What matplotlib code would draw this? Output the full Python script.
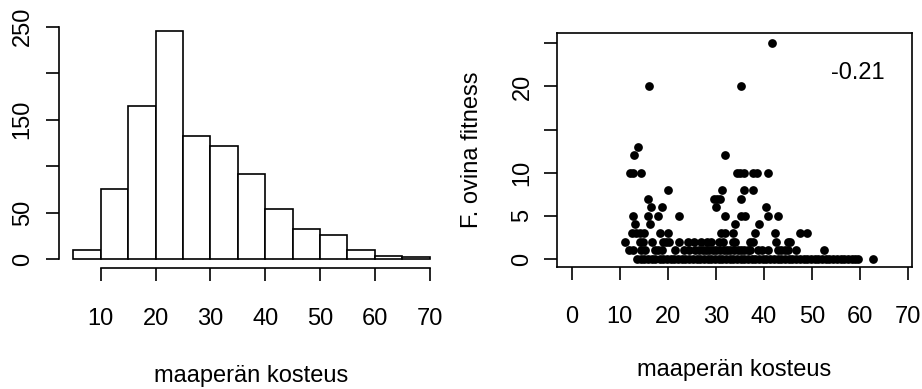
import numpy as np
import matplotlib
matplotlib.use('Agg')
import matplotlib.pyplot as plt

plt.rcParams['font.family'] = ['Liberation Sans', 'DejaVu Sans']
plt.rcParams['font.size'] = 17

# histogram of soil moisture (maaperän kosteus)
bin_edges = [5, 10, 15, 20, 25, 30, 35, 40, 45, 50, 55, 60, 65, 70]
bin_counts = [10, 75, 165, 245, 132, 122, 92, 54, 33, 26, 10, 4, 2]
hist_yticks = [0, 50, 100, 150, 200, 250]
hist_ylabels = ['0', '50', '', '150', '', '250']
hist_xticks = [10, 20, 30, 40, 50, 60, 70]

# F. ovina fitness vs soil moisture, soil values grouped by fitness value
soil_fit0 = [13.6, 14.4, 15.1, 15.9, 16.7, 17.4, 18.3, 19.0, 19.8, 20.6, 21.3, 22.1,
             22.9, 23.6, 24.4, 25.2, 26.0, 26.7, 27.5, 28.3, 29.0, 29.8, 30.6, 31.3,
             32.1, 32.9, 33.6, 34.4, 35.2, 35.9, 36.7, 37.5, 38.2, 39.0, 39.8, 40.5,
             41.3, 42.1, 42.8, 43.6, 44.4, 45.1, 45.9, 46.7, 47.4, 48.2, 49.0, 49.7,
             50.5, 51.3, 52.0, 52.8, 53.6, 54.3, 55.1, 55.9, 56.6, 57.4, 58.2, 58.9,
             59.5, 62.7]
soil_fit1 = [12.0, 12.7, 14.5, 15.2, 17.3, 18.0, 18.7, 21.5, 23.4, 24.3, 25.7, 26.4,
             27.2, 27.9, 28.6, 29.4, 30.1, 30.8, 31.6, 32.3, 33.0, 33.8, 34.5, 35.2,
             35.9, 36.6, 37.1, 38.8, 39.5, 40.8, 42.9, 43.6, 44.4, 45.0, 46.7, 52.5]
soil_fit2 = [11.1, 14.2, 14.9, 16.7, 18.9, 19.6, 20.2, 22.4, 24.1, 25.5, 26.8, 28.1,
             29.0, 30.6, 31.5, 33.5, 34.0, 37.1, 37.8, 42.4, 45.0, 45.4]
soil_fit3 = [12.5, 13.3, 14.2, 15.0, 18.4, 20.0, 31.0, 31.9, 33.5, 38.1, 42.3, 47.5, 49.0]
soil_fit4 = [13.1, 16.2, 34.0, 38.9]
soil_fit5 = [12.8, 15.9, 18.0, 22.3, 31.9, 35.2, 36.0, 40.9, 42.8]
soil_fit6 = [16.4, 18.7, 30.1, 40.5]
soil_fit7 = [15.9, 29.6, 30.3, 30.9, 35.3]
soil_fit8 = [20.0, 31.2, 35.9, 37.8]
soil_fit10 = [12.2, 12.8, 14.5, 34.3, 35.0, 35.8, 37.8, 38.5, 40.9]
soil_fit12 = [13.0, 31.9]
soil_fit13 = [13.7]
soil_fit20 = [16.1, 35.3]
soil_fit25 = [41.6]

soil_groups = [soil_fit0, soil_fit1, soil_fit2, soil_fit3, soil_fit4, soil_fit5, soil_fit6,
               soil_fit7, soil_fit8, soil_fit10, soil_fit12, soil_fit13, soil_fit20, soil_fit25]
fitness_levels = [0, 1, 2, 3, 4, 5, 6, 7, 8, 10, 12, 13, 20, 25]
corr_label = '-0.21'

sc_xticks = [0, 10, 20, 30, 40, 50, 60, 70]
sc_yticks = [0, 5, 10, 15, 20, 25]
sc_ylabels = ['0', '5', '10', '', '20', '']

W, H = 922, 389
fig = plt.figure(figsize=(W / 100, H / 100), dpi=100)

lw = 1.2
tick_len = 9.7

# ---- left: histogram
ax1 = fig.add_axes([59 / W, 1 - 268.4 / H, 385 / W, 246.2 / H])
ax1.bar(bin_edges[:-1], bin_counts, width=np.diff(bin_edges), align='edge',
        facecolor='white', edgecolor='black', linewidth=lw)
ax1.set_xlim(2.4, 72.6)
ax1.set_ylim(-9.8, 254.8)
for s in ['top', 'right']:
    ax1.spines[s].set_visible(False)
ax1.spines['left'].set_bounds(0, 250)
ax1.spines['bottom'].set_bounds(10, 70)
for s in ['left', 'bottom']:
    ax1.spines[s].set_linewidth(lw)
ax1.set_xticks(hist_xticks)
ax1.set_yticks(hist_yticks)
ax1.set_yticklabels(hist_ylabels, rotation=90, va='center')
ax1.tick_params(axis='x', length=tick_len, width=lw, pad=18.5)
ax1.tick_params(axis='y', length=tick_len, width=lw, pad=8.5)
fig.text(251.5 / W, 1 - 382 / H, 'maaperän kosteus', ha='center', va='baseline')

# ---- right: scatter
ax2 = fig.add_axes([557.3 / W, 1 - 267.3 / H, 354.4 / W, 234 / H])
for xs, lev in zip(soil_groups, fitness_levels):
    ax2.plot(xs, [lev] * len(xs), 'o', color='black', markersize=6.3, markeredgewidth=0)
ax2.set_xlim(-3.0, 70.7)
ax2.set_ylim(-0.96, 26.15)
for s in ax2.spines.values():
    s.set_linewidth(lw)
ax2.set_xticks(sc_xticks)
ax2.set_yticks(sc_yticks)
ax2.set_yticklabels(sc_ylabels, rotation=90, va='center')
ax2.tick_params(axis='x', length=tick_len, width=lw, pad=18)
ax2.tick_params(axis='y', length=tick_len, width=lw, pad=7.5)
ax2.text(59.5, 21.6, corr_label, ha='center', va='center')
fig.text(734.5 / W, 1 - 376 / H, 'maaperän kosteus', ha='center', va='baseline')
fig.text(478 / W, 1 - 150 / H, 'F. ovina fitness', rotation=90,
         rotation_mode='anchor', ha='center', va='baseline')

fig.savefig('out.png', dpi=100)
